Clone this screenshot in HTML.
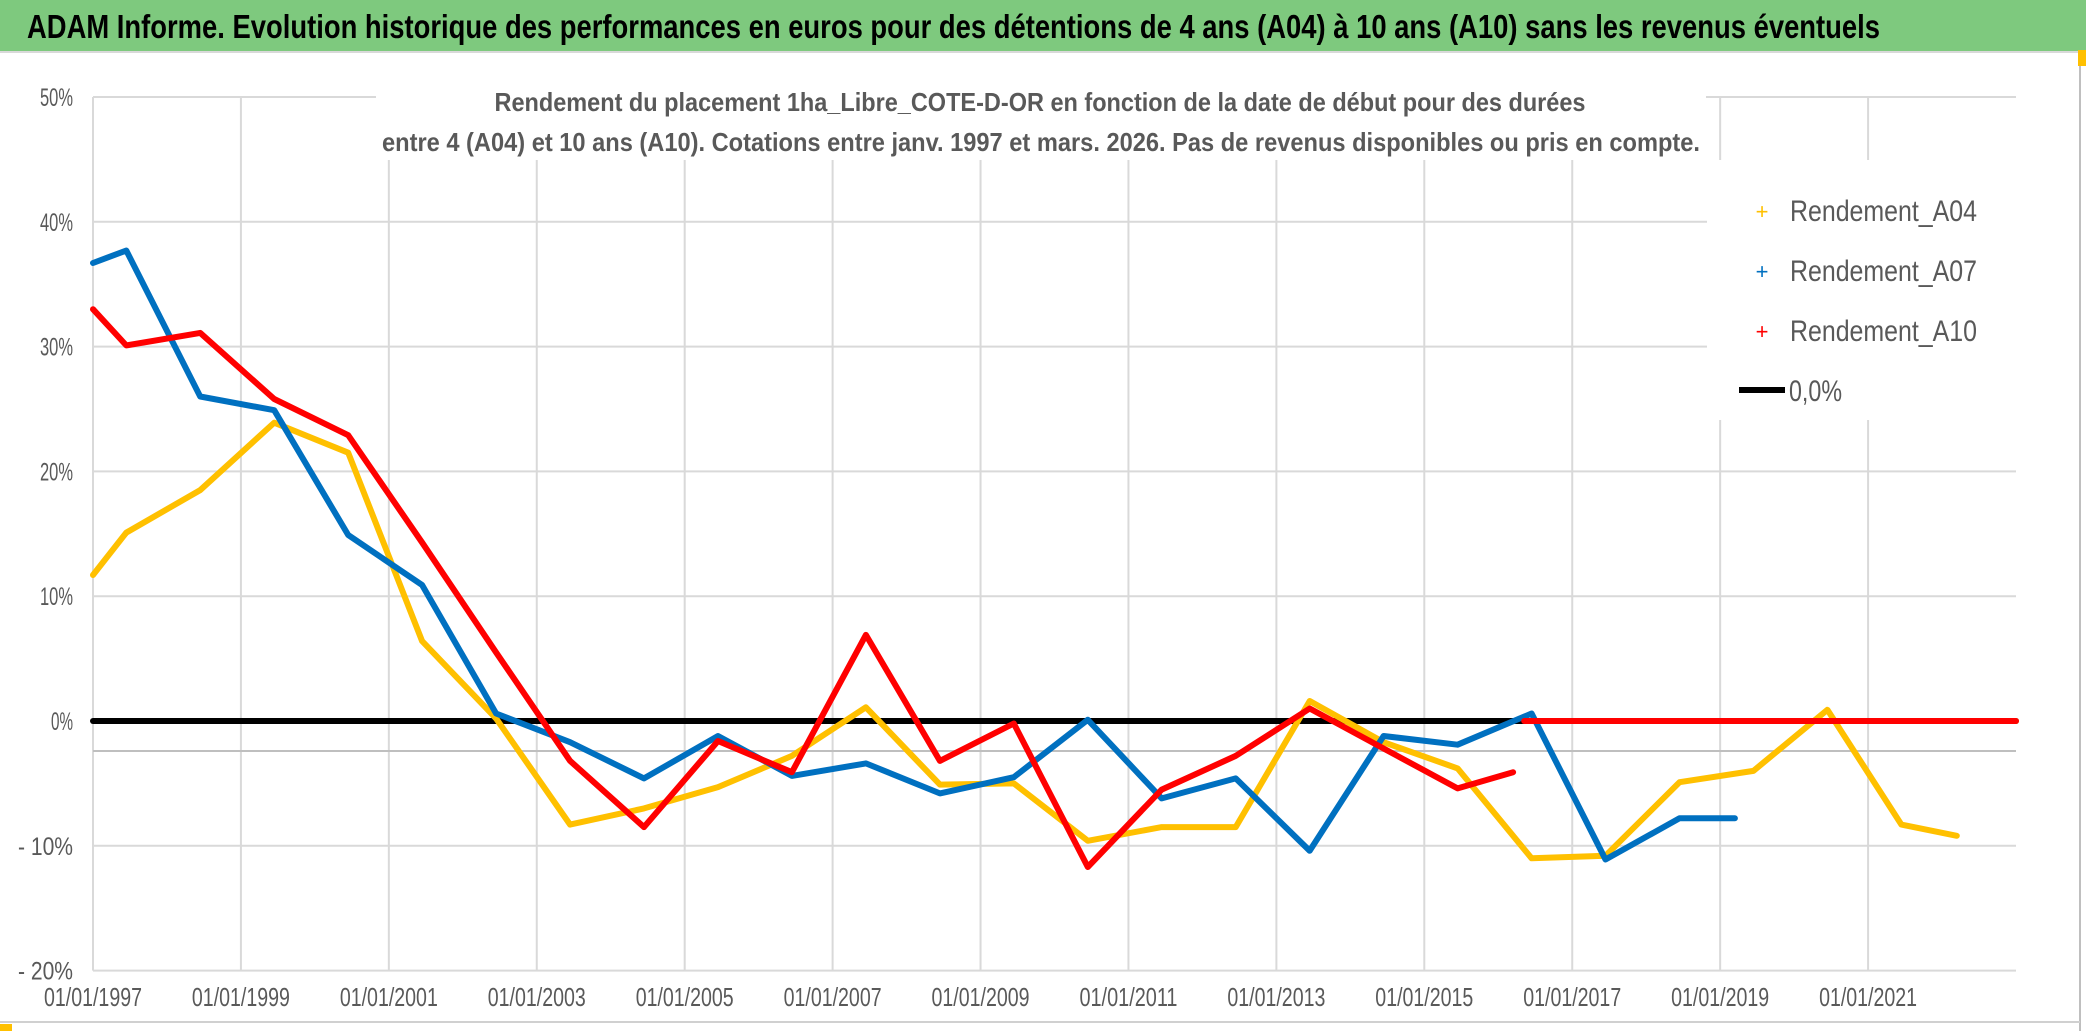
<!DOCTYPE html>
<html><head><meta charset="utf-8"><style>
html,body{margin:0;padding:0;background:#fff}
svg{display:block}
text{font-family:"Liberation Sans Narrow","Liberation Sans",sans-serif}
</style></head><body>
<svg id="chart" width="2086" height="1031" viewBox="0 0 2086 1031" xmlns="http://www.w3.org/2000/svg">
<rect x="0" y="0" width="2086" height="1031" fill="#fff"/>
<rect x="0" y="0" width="2086" height="51" fill="#7ec97e"/>
<line x1="0" y1="52" x2="2080" y2="52" stroke="#d9d9d9" stroke-width="2"/>
<line x1="2080" y1="52" x2="2080" y2="1031" stroke="#bfbfbf" stroke-width="2"/>
<line x1="0" y1="1022" x2="2080" y2="1022" stroke="#d0d0d0" stroke-width="2"/>
<rect x="2078" y="50" width="8" height="16" fill="#ffc000"/>
<rect x="0" y="1024" width="12" height="7" fill="#ffc000"/>
<text x="27" y="38" font-size="33" font-weight="bold" fill="#000" textLength="1853" lengthAdjust="spacingAndGlyphs">ADAM Informe. Evolution historique des performances en euros pour des détentions de 4 ans (A04) à 10 ans (A10) sans les revenus éventuels</text>
<g id="grid"></g>
<g id="yaxis"></g>
<g id="xaxis"></g>
<rect x="376" y="80" width="1330" height="80" fill="#fff"/>
<text x="1040" y="111" font-size="26" font-weight="bold" fill="#595959" text-anchor="middle" textLength="1091" lengthAdjust="spacingAndGlyphs">Rendement du placement 1ha_Libre_COTE-D-OR en fonction de la date de début pour des durées</text>
<text x="1041" y="151" font-size="26" font-weight="bold" fill="#595959" text-anchor="middle" textLength="1318" lengthAdjust="spacingAndGlyphs">entre 4 (A04) et 10 ans (A10). Cotations entre janv. 1997 et mars. 2026. Pas de revenus disponibles ou pris en compte.</text>
<g id="series"></g>
<g>
<rect x="1707" y="160" width="310" height="260" fill="#fff"/>
<g><text x="1762" y="219" font-size="22" fill="#ffc000" text-anchor="middle">+</text><text x="1790" y="221" font-size="30" fill="#595959" textLength="187" lengthAdjust="spacingAndGlyphs">Rendement_A04</text></g>
<g><text x="1762" y="279" font-size="22" fill="#0070c0" text-anchor="middle">+</text><text x="1790" y="281" font-size="30" fill="#595959" textLength="187" lengthAdjust="spacingAndGlyphs">Rendement_A07</text></g>
<g><text x="1762" y="339" font-size="22" fill="#ff0000" text-anchor="middle">+</text><text x="1790" y="341" font-size="30" fill="#595959" textLength="187" lengthAdjust="spacingAndGlyphs">Rendement_A10</text></g>
<g><line x1="1739" y1="390" x2="1785" y2="390" stroke="#000" stroke-width="6"/><text x="1789" y="401" font-size="30" fill="#595959" textLength="53" lengthAdjust="spacingAndGlyphs">0,0%</text></g>
</g>
</svg>
<script>
const yTicks = [50, 40, 30, 20, 10, 0, -10, -20];
const yTickLabels = ["50%", "40%", "30%", "20%", "10%", "0%", "- 10%", "- 20%"];
const xTicks = [1997, 1999, 2001, 2003, 2005, 2007, 2009, 2011, 2013, 2015, 2017, 2019, 2021];
const xTickLabels = ["01/01/1997","01/01/1999","01/01/2001","01/01/2003","01/01/2005","01/01/2007","01/01/2009","01/01/2011","01/01/2013","01/01/2015","01/01/2017","01/01/2019","01/01/2021"];
const a04Dates = [1997.0,1997.45,1998.45,1999.45,2000.45,2001.45,2002.45,2003.45,2004.45,2005.45,2006.45,2007.45,2008.45,2009.45,2010.45,2011.45,2012.45,2013.45,2014.45,2015.45,2016.45,2017.45,2018.45,2019.45,2020.45,2021.45,2022.2];
const a04Values = [11.7,15.1,18.5,23.9,21.5,6.4,0.2,-8.3,-7.0,-5.3,-2.8,1.1,-5.1,-5.0,-9.6,-8.5,-8.5,1.6,-1.7,-3.8,-11.0,-10.8,-4.9,-4.0,0.9,-8.3,-9.2];
const a04TailDates = [2022.36, 2023.0];
const a04TailValues = [0, 0];
const a07Dates = [1997.0,1997.45,1998.45,1999.45,2000.45,2001.45,2002.45,2003.45,2004.45,2005.45,2006.45,2007.45,2008.45,2009.45,2010.45,2011.45,2012.45,2013.45,2014.45,2015.45,2016.45,2017.45,2018.45,2019.2];
const a07Values = [36.7,37.7,26.0,24.9,14.9,10.9,0.6,-1.7,-4.6,-1.2,-4.4,-3.4,-5.8,-4.5,0.1,-6.2,-4.6,-10.4,-1.2,-1.9,0.6,-11.1,-7.8,-7.8];
const a10Dates = [1997.0,1997.45,1998.45,1999.45,2000.45,2001.45,2002.45,2003.45,2004.45,2005.45,2006.45,2007.45,2008.45,2009.45,2010.45,2011.45,2012.45,2013.45,2014.45,2015.45,2016.2];
const a10Values = [33.0,30.1,31.1,25.8,22.9,14.3,5.5,-3.2,-8.5,-1.6,-4.1,6.9,-3.2,-0.2,-11.7,-5.5,-2.8,1.0,-2.2,-5.4,-4.1];
const a10TailDates = [2016.35, 2023.0];
const a10TailValues = [0, 0];
const zeroDates = [1997.0, 2023.0];
const zeroValues = [0, 0];

const NS = "http://www.w3.org/2000/svg";
const X0 = 93, X1 = 2016, Y50 = 97, Y0 = 721;
function xs(t){ return X0 + (t - 1997) * (X1 - X0) / 26; }
function ys(v){ return Y0 - v * (Y0 - Y50) / 50; }
function mk(tag, attrs, parent){ const e = document.createElementNS(NS, tag); for (const k in attrs) e.setAttribute(k, attrs[k]); parent.appendChild(e); return e; }

const grid = document.getElementById('grid');
yTicks.forEach(v => {
  const l = mk('line', {x1: X0, x2: X1, y1: ys(v), y2: ys(v), stroke: '#d9d9d9', 'stroke-width': 2}, grid);
  
  
});
xTicks.forEach(t => {
  const l = mk('line', {x1: xs(t), x2: xs(t), y1: Y50, y2: ys(-20), stroke: '#d9d9d9', 'stroke-width': 2}, grid);
  
  
});
const ax = mk('line', {x1: X0, x2: X1, y1: ys(-2.4), y2: ys(-2.4), stroke: '#bfbfbf', 'stroke-width': 2}, grid);



const ya = document.getElementById('yaxis');
yTicks.forEach((v, i) => {
  const t = mk('text', {x: 73, y: ys(v) + 9, 'font-size': 25, fill: '#595959', 'text-anchor': 'end', textLength: (yTickLabels[i].length * 11), lengthAdjust: 'spacingAndGlyphs'}, ya);
  t.textContent = yTickLabels[i];
  
  
});
const xa = document.getElementById('xaxis');
xTicks.forEach((v, i) => {
  const t = mk('text', {x: xs(v), y: 1006, 'font-size': 26, fill: '#595959', 'text-anchor': 'middle', textLength: 98, lengthAdjust: 'spacingAndGlyphs'}, xa);
  t.textContent = xTickLabels[i];
  
  
});

const sg = document.getElementById('series');
function drawLine(dates, vals, color, w, name){
  const pts = dates.map((d, i) => xs(d).toFixed(1) + ',' + ys(vals[i]).toFixed(1)).join(' ');
  const p = mk('polyline', {points: pts, fill: 'none', stroke: color, 'stroke-width': w, 'stroke-linejoin': 'round', 'stroke-linecap': 'round'}, sg);
  
  
}
drawLine(zeroDates, zeroValues, '#000', 6, 'zero-line');
drawLine(a04Dates, a04Values, '#ffc000', 6, 'series-a04');
drawLine(a04TailDates, a04TailValues, '#ffc000', 6, 'series-a04-tail');
drawLine(a07Dates, a07Values, '#0070c0', 6, 'series-a07');
drawLine(a10Dates, a10Values, '#ff0000', 6, 'series-a10');
drawLine(a10TailDates, a10TailValues, '#ff0000', 6, 'series-a10-tail');
</script>
</body></html>
